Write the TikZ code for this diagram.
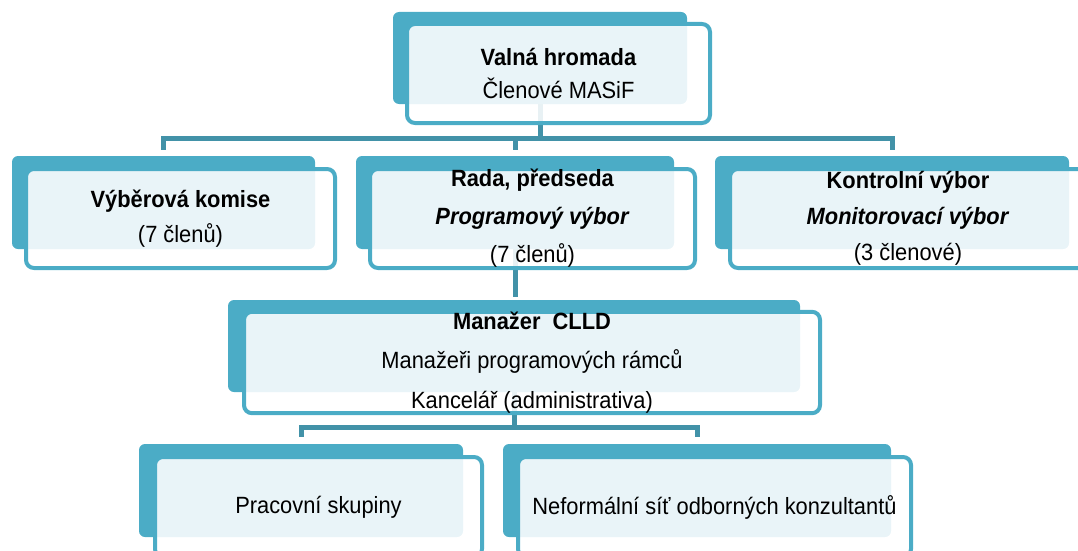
\documentclass[tikz,border=0pt]{standalone}
\usepackage{fontspec}
\setmainfont{Liberation Sans}[FakeStretch=0.93]
\usetikzlibrary{backgrounds}
\definecolor{boxteal}{HTML}{4BACC6}
\definecolor{lineteal}{HTML}{4292A8}

\begin{document}
\begin{tikzpicture}[x=1pt, y=-1pt,
        backbox/.style={fill=boxteal, rounded corners=6pt, inner sep=0pt},
        frontbox/.style={draw=boxteal, line width=4pt, fill=white, fill opacity=0.88, text opacity=1,
            rounded corners=8pt, inner sep=0pt, align=center},
        conn/.style={draw=lineteal, line width=5pt}]
    \useasboundingbox (0,0) rectangle (1078,551);

    % back plates
    \node[backbox, minimum width=294pt, minimum height=92pt] (vhB) at (540,58) {};
    \node[backbox, minimum width=303pt, minimum height=93pt] (vkB) at (163.5,202.5) {};
    \node[backbox, minimum width=318pt, minimum height=93pt] (rpB) at (515,202.5) {};
    \node[backbox, minimum width=354pt, minimum height=93pt] (kvB) at (892,202.5) {};
    \node[backbox, minimum width=572pt, minimum height=92pt] (mcB) at (514,346) {};
    \node[backbox, minimum width=324pt, minimum height=93pt] (psB) at (301,490.5) {};
    \node[backbox, minimum width=388pt, minimum height=93pt] (nsB) at (697,490.5) {};

    % front plates with the texts
    \node[frontbox, minimum width=303pt, minimum height=99pt, font=\fontsize{23.5}{33}\selectfont] (vh) at (558.5,73.5)
        {\textbf{Valná hromada}\\Členové MASiF};
    \node[frontbox, minimum width=309pt, minimum height=99pt, font=\fontsize{23.5}{35}\selectfont] (vk) at (180.5,218.5)
        {\textbf{Výběrová komise}\\(7 členů)};
    \node[frontbox, minimum width=325pt, minimum height=99pt, font=\fontsize{23.5}{38}\selectfont] (rp) at (532.5,218.5)
        {\textbf{Rada, předseda}\\\textbf{\textit{Programový výbor}}\\(7 členů)};
    \node[frontbox, minimum width=356pt, minimum height=99pt, font=\fontsize{23.5}{36}\selectfont] (kv) at (908,218.5)
        {\textbf{Kontrolní výbor}\\\textbf{\textit{Monitorovací výbor}}\\(3 členové)};
    \node[frontbox, minimum width=576pt, minimum height=97pt, font=\fontsize{23.5}{39.5}\selectfont] (mc) at (532,362.5)
        {\textbf{Manažer\ \ CLLD}\\Manažeři programových rámců\\Kancelář (administrativa)};
    \node[frontbox, minimum width=327pt, minimum height=100pt, font=\fontsize{23.5}{33}\selectfont] (ps) at (318.5,507)
        {Pracovní skupiny};
    \node[frontbox, minimum width=393pt, minimum height=100pt, font=\fontsize{23.5}{33}\selectfont] (ns) at (714.5,507)
        {Neformální síť odborných konzultantů};

    % connectors under the plates
    \begin{scope}[on background layer]
        \coordinate (bus1) at (540,138);
        \coordinate (bus2) at (514,427);
        \draw[conn] (vhB.center) -- (bus1);
        \draw[conn] ([yshift=6pt]vkB.north) |- (bus1) -| ([yshift=6pt]kvB.north);
        \draw[conn] ([yshift=6pt]rpB.north) -- (rpB.north |- bus1);
        \draw[conn] (rpB.center) -- ([yshift=3pt]rpB.center |- mcB.north);
        \draw[conn] (mcB.center) -- (bus2);
        \draw[conn] ([yshift=7pt]psB.north) |- (bus2) -| ([yshift=7pt]nsB.north);
    \end{scope}
\end{tikzpicture}
\end{document}
